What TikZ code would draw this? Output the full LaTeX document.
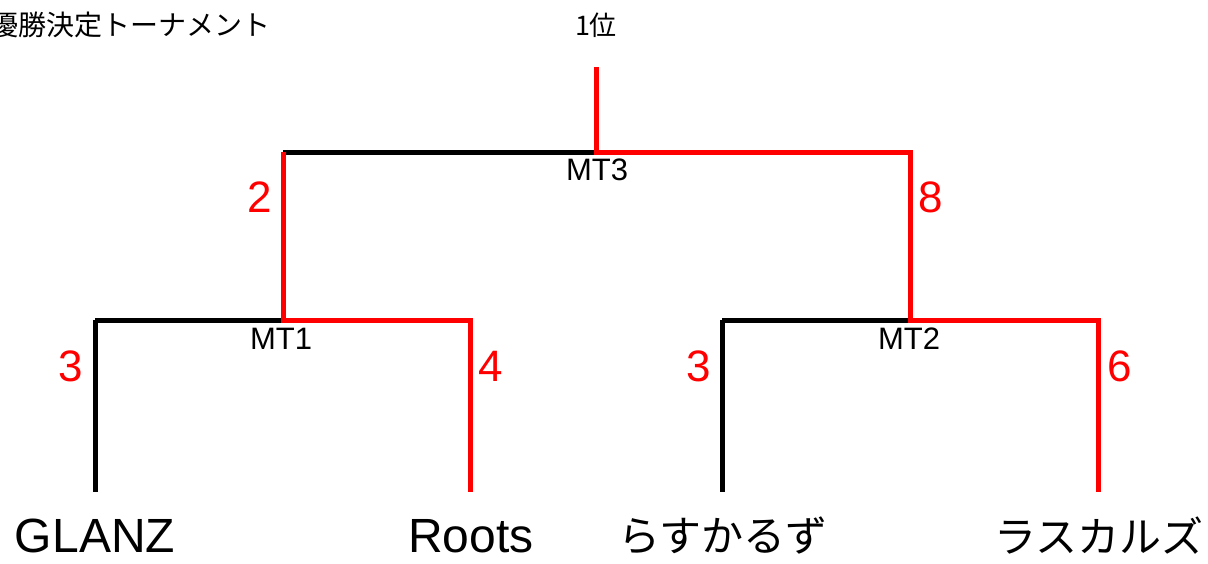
\documentclass[tikz,border=0pt]{standalone}
\usepackage{fontspec}
\setmainfont{Noto Sans CJK JP}
\newfontfamily\latf{Liberation Sans}
\begin{document}
\begin{tikzpicture}[x=1pt,y=-1pt,
  win/.style={draw=red,line width=5pt},
  lose/.style={draw=black,line width=5pt},
  score/.style={text=red,font=\latf\fontsize{44}{44}\selectfont,inner sep=0pt},
  match/.style={font=\latf\fontsize{31}{31}\selectfont,inner sep=0pt},
  place/.style={font=\fontsize{27}{27}\selectfont,inner sep=0pt},
  team/.style={font=\fontsize{42}{42}\selectfont,inner sep=0pt},
  lteam/.style={font=\latf\fontsize{48}{48}\selectfont,inner sep=0pt},
  title/.style={font=\fontsize{28}{28}\selectfont,inner sep=0pt}]
\useasboundingbox (0,0) rectangle (1208,563);
% coordinates
\coordinate (top) at (596,67);
\coordinate (m3) at (596,152);
\coordinate (m3l) at (283,152);
\coordinate (m3r) at (910,152);
\coordinate (m1) at (283,320);
\coordinate (m1l) at (95,320);
\coordinate (m1r) at (470,320);
\coordinate (m2) at (910,320);
\coordinate (m2l) at (722,320);
\coordinate (m2r) at (1098,320);
\coordinate (t1) at (95,492);
\coordinate (t2) at (470,492);
\coordinate (t3) at (722,492);
\coordinate (t4) at (1098,492);
% lines
\draw[lose] (m3l) -- (m3);
\draw[lose] (m1l) -- (m1);
\draw[lose] (m2l) -- (m2);
\draw[lose] (m1l) -- (t1);
\draw[lose] (m2l) -- (t3);
\draw[win] (top) -- (m3) -- (m3r) -- (m2) -- (m2r) -- (t4);
\draw[win] (m3l) -- (m1) -- (m1r) -- (t2);
% labels
\node[title,anchor=west] (ttl) at (-10,25) {優勝決定トーナメント};
\node[place] (first) at (596,25) {1位};
\node[match] (lm3) at (597,170) {MT3};
\node[match] (lm1) at (281,339) {MT1};
\node[match] (lm2) at (909,339) {MT2};
\node[score] (s2) at (260,197) {2};
\node[score] (s8) at (931,197) {8};
\node[score] (sa) at (71,366) {3};
\node[score] (sb) at (491,366) {4};
\node[score] (sc) at (699,366) {3};
\node[score] (sd) at (1120,366) {6};
\node[lteam] (n1) at (95,536) {GLANZ};
\node[lteam] (n2) at (471,536) {Roots};
\node[team] (n3) at (723,536) {らすかるず};
\node[team] (n4) at (1099,536) {ラスカルズ};
\end{tikzpicture}
\end{document}
